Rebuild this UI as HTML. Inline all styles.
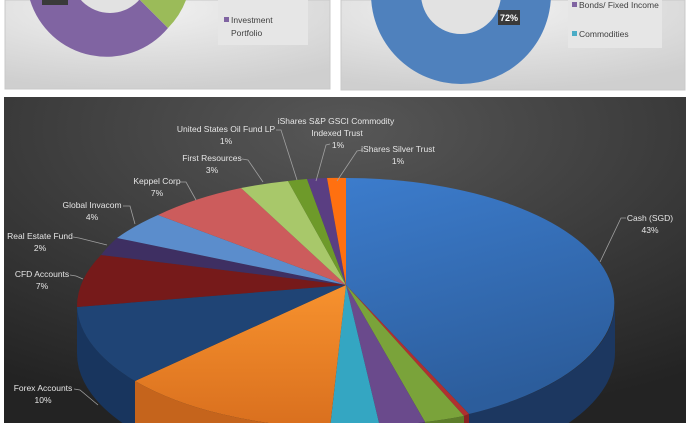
<!DOCTYPE html>
<html><head><meta charset="utf-8"><style>
html,body{margin:0;width:690px;height:423px;overflow:hidden;background:#fff;font-family:"Liberation Sans",sans-serif}
svg{display:block}
</style></head><body>
<svg width="690" height="423" viewBox="0 0 690 423" xmlns="http://www.w3.org/2000/svg" font-family="Liberation Sans, sans-serif">
<defs>
<radialGradient id="lg" cx="0.4" cy="0.1" r="0.9"><stop offset="0" stop-color="#f2f2f2"/><stop offset="1" stop-color="#cfcfcf"/></radialGradient>
<radialGradient id="dg" cx="0.5" cy="0.1" r="0.9"><stop offset="0" stop-color="#575757"/><stop offset="1" stop-color="#232323"/></radialGradient>
<linearGradient id="cash" x1="0" y1="0" x2="0.3" y2="1"><stop offset="0" stop-color="#3c7ccc"/><stop offset="1" stop-color="#2c5d9c"/></linearGradient>
<linearGradient id="orng" x1="0" y1="0" x2="0" y2="1"><stop offset="0" stop-color="#f7922e"/><stop offset="1" stop-color="#d96f1e"/></linearGradient>
<clipPath id="frame"><rect x="0" y="0" width="690" height="423"/></clipPath>
</defs>
<g clip-path="url(#frame)">
<rect x="0" y="0" width="690" height="423" fill="#fff"/>
<rect x="5" y="0" width="325" height="89" fill="url(#lg)" stroke="#c8c8c8"/>
<rect x="341" y="0" width="344" height="90" fill="url(#lg)" stroke="#c8c8c8"/>
<path d="M30 0 A80 80 0 0 0 168 28 L140 0 Z" fill="#8064a2"/>
<path d="M168 28 A80 80 0 0 0 186 0 L140 0 Z" fill="#9bbb59"/>
<circle cx="110" cy="-26" r="39" fill="#e2e2e2"/>
<rect x="42" y="0" width="26" height="5" fill="#3a3a3a"/>
<rect x="218" y="0" width="90" height="45" fill="#e6e6e6"/>
<rect x="224" y="17" width="5" height="5" fill="#8064a2"/>
<text x="231" y="23" font-size="8.5" fill="#404040">Investment</text>
<text x="231" y="36" font-size="8.5" fill="#404040">Portfolio</text>
<circle cx="461" cy="-6" r="90" fill="#4f81bd"/>
<circle cx="461" cy="-6" r="40" fill="#e2e2e2"/>
<rect x="498" y="10" width="22" height="15" fill="#3a3a3a"/>
<text x="509" y="21" font-size="9" fill="#fff" font-weight="bold" text-anchor="middle">72%</text>
<rect x="568" y="0" width="94" height="48" fill="#e6e6e6"/>
<rect x="572" y="2" width="5" height="5" fill="#8064a2"/>
<text x="579" y="8" font-size="8.5" fill="#404040">Bonds/ Fixed Income</text>
<rect x="572" y="31" width="5" height="5" fill="#4bacc6"/>
<text x="579" y="37" font-size="8.5" fill="#404040">Commodities</text>
<rect x="4" y="97" width="682" height="326" fill="url(#dg)"/>
<path d="M615 303 A269 125 0 0 1 469 414 L469 464 A269 125 0 0 0 615 353 Z" fill="#1c3760"/>
<path d="M469 414 A269 125 0 0 1 464 416 L464 466 L469 464 Z" fill="#8a2222"/>
<path d="M464 416 A269 125 0 0 1 425 422 L425 472 L464 466 Z" fill="#5d7d2a"/>
<path d="M425 422 A269 125 0 0 1 380 427 L380 477 L425 472 Z" fill="#523a72"/>
<path d="M380 427 A269 125 0 0 1 330 428 L330 478 L380 477 Z" fill="#2a8aa2"/>
<path d="M330 428 A269 125 0 0 1 135 381 L135 431 L330 478 Z" fill="#c5641c"/>
<path d="M135 381 A269 125 0 0 1 77 303 L77 353 A269 125 0 0 0 135 431 Z" fill="#18355e"/>
<g stroke="none">
<path d="M346 285 L346 178 A269 125 0 0 1 469 414 Z" fill="url(#cash)"/>
<path d="M346 285 L469 414 A269 125 0 0 1 464 416 Z" fill="#b03030"/>
<path d="M346 285 L464 416 A269 125 0 0 1 425 422 Z" fill="#7aa33a"/>
<path d="M346 285 L425 422 A269 125 0 0 1 380 427 Z" fill="#6a4a8c"/>
<path d="M346 285 L380 427 A269 125 0 0 1 330 428 Z" fill="#34a6c2"/>
<path d="M346 285 L330 428 A269 125 0 0 1 135 381 Z" fill="url(#orng)"/>
<path d="M346 285 L135 381 A269 125 0 0 1 77 307 Z" fill="#1f4475"/>
<path d="M346 285 L77 307 A269 125 0 0 1 101 255 Z" fill="#761a1a"/>
<path d="M346 285 L101 255 A269 125 0 0 1 117 238 Z" fill="#3e2f62"/>
<path d="M346 285 L117 238 A269 125 0 0 1 158 215 Z" fill="#5b8dcc"/>
<path d="M346 285 L158 215 A269 125 0 0 1 241 188 Z" fill="#cc5c5c"/>
<path d="M346 285 L241 188 A269 125 0 0 1 288 181 Z" fill="#a8c86a"/>
<path d="M346 285 L288 181 A269 125 0 0 1 307 179 Z" fill="#6e9a2a"/>
<path d="M346 285 L307 179 A269 125 0 0 1 327 178 Z" fill="#5a3e82"/>
<path d="M346 285 L327 178 A269 125 0 0 1 346 178 Z" fill="#ff7010"/>
</g>
<g stroke="#a0a0a0" stroke-width="0.8" fill="none">
<polyline points="626,218 621,218 600,262"/>
<polyline points="74,389 80,390 98,405"/>
<polyline points="70,275 76,276 83,279"/>
<polyline points="73,237 79,238 107,245"/>
<polyline points="123,206 130,206 135,224"/>
<polyline points="180,182 186,182 196,200"/>
<polyline points="242,159 248,160 263,182"/>
<polyline points="276,130 281,130 297,180"/>
<polyline points="330,144 326,145 316,181"/>
<polyline points="362,150 357,151 337,181"/>
</g>
<g font-size="8.5" fill="#e6e6e6" text-anchor="middle">
<text x="336" y="124">iShares S&amp;P GSCI Commodity</text>
<text x="337" y="136">Indexed Trust</text>
<text x="338" y="148">1%</text>
<text x="226" y="132">United States Oil Fund LP</text>
<text x="226" y="144">1%</text>
<text x="398" y="152">iShares Silver Trust</text>
<text x="398" y="164">1%</text>
<text x="212" y="161">First Resources</text>
<text x="212" y="173">3%</text>
<text x="157" y="184">Keppel Corp</text>
<text x="157" y="196">7%</text>
<text x="92" y="208">Global Invacom</text>
<text x="92" y="220">4%</text>
<text x="40" y="239">Real Estate Fund</text>
<text x="40" y="251">2%</text>
<text x="42" y="277">CFD Accounts</text>
<text x="42" y="289">7%</text>
<text x="43" y="391">Forex Accounts</text>
<text x="43" y="403">10%</text>
<text x="650" y="221">Cash (SGD)</text>
<text x="650" y="233">43%</text>
</g>
</g>
</svg>
</body></html>
